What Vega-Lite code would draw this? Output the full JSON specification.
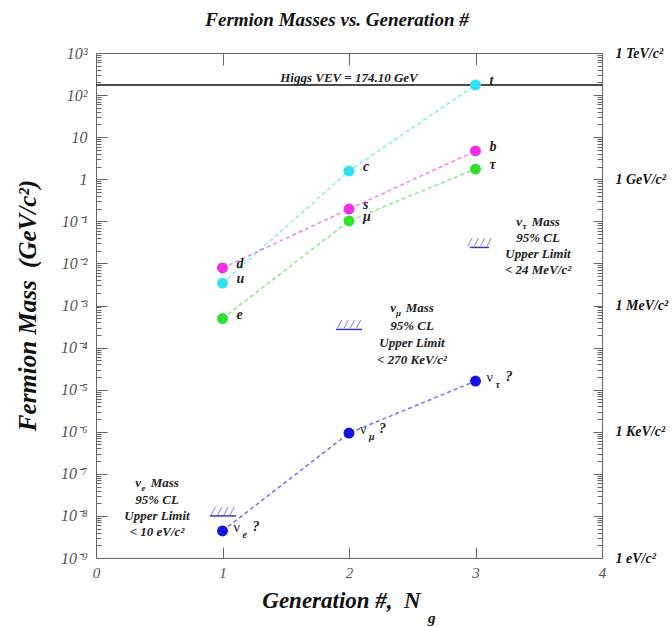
{
  "$schema": "https://vega.github.io/schema/vega-lite/v6.json",
  "autosize": "none",
  "width": 506,
  "height": 505,
  "padding": {"left": 96, "top": 53, "right": 70, "bottom": 69},
  "title": {"text": "Fermion Masses vs. Generation #", "font": "Liberation Serif", "fontSize": 19, "fontStyle": "italic", "fontWeight": "bold", "anchor": "middle", "offset": 15, "dx": -12, "color": "#111"},
  "config": {
    "view": {"stroke": "#666", "strokeWidth": 1},
    "font": "Liberation Serif",
    "axis": {"domainColor": "#666", "tickColor": "#666", "grid": false, "labelOverlap": false, "labelBound": false, "labelFlush": false}
  },
  "datasets": {
    "pts": [
      {"gen": 1, "mass": 0.0078, "fam": "down", "label": "d"},
      {"gen": 2, "mass": 0.196, "fam": "down", "label": "s"},
      {"gen": 3, "mass": 4.7, "fam": "down", "label": "b"},
      {"gen": 1, "mass": 0.0034, "fam": "up", "label": "u"},
      {"gen": 2, "mass": 1.57, "fam": "up", "label": "c"},
      {"gen": 3, "mass": 174, "fam": "up", "label": "t"},
      {"gen": 1, "mass": 0.00049, "fam": "lepton", "label": "e"},
      {"gen": 2, "mass": 0.102, "fam": "lepton", "label": "μ"},
      {"gen": 3, "mass": 1.75, "fam": "lepton", "label": "τ"},
      {"gen": 1, "mass": 4.4e-9, "fam": "neutrino", "label": "", "sub": "e"},
      {"gen": 2, "mass": 9.3e-7, "fam": "neutrino", "label": "", "sub": "μ"},
      {"gen": 3, "mass": 1.6e-5, "fam": "neutrino", "label": "", "sub": "τ"}
    ],
    "limits": [
      {"gen": 1.0, "lo": 0.9, "hi": 1.107, "limit": 1e-8},
      {"gen": 2.0, "lo": 1.897, "hi": 2.103, "limit": 2.7e-4},
      {"gen": 3.03, "lo": 2.957, "hi": 3.107, "limit": 0.024}
    ],
    "notes": [
      {"gen": 0.482, "mass": 6.0e-8, "text": "ν\u00a0\u00a0\u00a0Mass"},
      {"gen": 0.482, "mass": 2.4e-8, "text": "95% CL"},
      {"gen": 0.482, "mass": 9.9e-9, "text": "Upper Limit"},
      {"gen": 0.482, "mass": 4.1e-9, "text": "< 10 eV/c²"},
      {"gen": 2.498, "mass": 8.7e-4, "text": "ν\u00a0\u00a0\u00a0Mass"},
      {"gen": 2.498, "mass": 3.25e-4, "text": "95% CL"},
      {"gen": 2.498, "mass": 1.28e-4, "text": "Upper Limit"},
      {"gen": 2.498, "mass": 5.06e-5, "text": "< 270 KeV/c²"},
      {"gen": 3.494, "mass": 0.0964, "text": "ν\u00a0\u00a0\u00a0Mass"},
      {"gen": 3.494, "mass": 0.0402, "text": "95% CL"},
      {"gen": 3.494, "mass": 0.0167, "text": "Upper Limit"},
      {"gen": 3.494, "mass": 0.00697, "text": "< 24 MeV/c²"}
    ],
    "notesubs": [
      {"gen": 0.375, "mass": 4.6e-8, "text": "e"},
      {"gen": 2.391, "mass": 6.6e-4, "text": "μ"},
      {"gen": 3.387, "mass": 0.0775, "text": "τ"}
    ]
  },
  "layer": [
    {
      "data": {"values": [{"vev": 174.1}]},
      "mark": {"type": "rule", "color": "#111", "strokeWidth": 1.5},
      "encoding": {
        "y": {"field": "vev", "type": "quantitative", "scale": {"type": "log", "domain": [1e-9, 1000]}, "axis": null}
      }
    },
    {
      "data": {"name": "pts"},
      "mark": {"type": "line", "strokeDash": [4, 3], "strokeWidth": 1.5, "opacity": 0.6},
      "encoding": {
        "x": {"field": "gen", "type": "quantitative", "scale": {"domain": [0, 4], "nice": false, "zero": false},
          "axis": {"orient": "top", "values": [1, 2, 3], "labels": false, "tickSize": -12, "title": null, "domain": false}},
        "y": {"field": "mass", "type": "quantitative", "scale": {"type": "log", "domain": [1e-9, 1000]},
          "axis": {"orient": "right", "title": null, "domain": false,
            "values": [1e-9,2e-9,3e-9,4e-9,5e-9,6e-9,7e-9,8e-9,9e-9,1e-8,2e-8,3e-8,4e-8,5e-8,6e-8,7e-8,8e-8,9e-8,1e-7,2e-7,3e-7,4e-7,5e-7,6e-7,7e-7,8e-7,9e-7,1e-6,2e-6,3e-6,4e-6,5e-6,6e-6,7e-6,8e-6,9e-6,1e-5,2e-5,3e-5,4e-5,5e-5,6e-5,7e-5,8e-5,9e-5,1e-4,2e-4,3e-4,4e-4,5e-4,6e-4,7e-4,8e-4,9e-4,0.001,0.002,0.003,0.004,0.005,0.006,0.007,0.008,0.009,0.01,0.02,0.03,0.04,0.05,0.06,0.07,0.08,0.09,0.1,0.2,0.3,0.4,0.5,0.6,0.7,0.8,0.9,1,2,3,4,5,6,7,8,9,10,20,30,40,50,60,70,80,90,100,200,300,400,500,600,700,800,900,1000],
            "tickSize": {"condition": {"test": "abs(log(datum.value)/LN10 - round(log(datum.value)/LN10)) < 0.01", "value": -9}, "value": -5},
            "labelExpr": "abs(datum.value/1000 - 1) < 1e-6 ? '1 TeV/c²' : abs(datum.value - 1) < 1e-9 ? '1 GeV/c²' : abs(datum.value/1e-3 - 1) < 1e-6 ? '1 MeV/c²' : abs(datum.value/1e-6 - 1) < 1e-6 ? '1 KeV/c²' : abs(datum.value/1e-9 - 1) < 1e-6 ? '1 eV/c²' : ''",
            "labelFont": "Liberation Serif", "labelFontSize": 14, "labelFontStyle": "italic", "labelFontWeight": "bold", "labelColor": "#111", "labelPadding": 22}},
        "color": {"field": "fam", "type": "nominal", "scale": {"domain": ["up", "down", "lepton", "neutrino"], "range": ["#2fe3ee", "#ee2fe6", "#2fe02f", "#1414e0"]}, "legend": null},
        "detail": {"field": "fam"}
      }
    },
    {
      "data": {"name": "pts"},
      "mark": {"type": "circle", "size": 120, "opacity": 1},
      "encoding": {
        "x": {"field": "gen", "type": "quantitative", "scale": {"domain": [0, 4], "nice": false, "zero": false},
          "axis": {"orient": "bottom", "values": [0, 1, 2, 3, 4], "tickSize": -11, "domain": false,
            "labelFont": "Liberation Serif", "labelFontSize": 15, "labelFontStyle": "italic", "labelColor": "#555", "labelPadding": 18,
            "title": "Generation #,\u00a0\u00a0N", "titleFont": "Liberation Serif", "titleFontSize": 23, "titleFontStyle": "italic", "titleFontWeight": "bold", "titleColor": "#111",
            "titleX": 245, "titleY": 49, "titleBaseline": "alphabetic", "titleAlign": "center"}},
        "y": {"field": "mass", "type": "quantitative", "scale": {"type": "log", "domain": [1e-9, 1000]},
          "axis": {"orient": "left", "domain": false,
            "values": [1e-9,2e-9,3e-9,4e-9,5e-9,6e-9,7e-9,8e-9,9e-9,1e-8,2e-8,3e-8,4e-8,5e-8,6e-8,7e-8,8e-8,9e-8,1e-7,2e-7,3e-7,4e-7,5e-7,6e-7,7e-7,8e-7,9e-7,1e-6,2e-6,3e-6,4e-6,5e-6,6e-6,7e-6,8e-6,9e-6,1e-5,2e-5,3e-5,4e-5,5e-5,6e-5,7e-5,8e-5,9e-5,1e-4,2e-4,3e-4,4e-4,5e-4,6e-4,7e-4,8e-4,9e-4,0.001,0.002,0.003,0.004,0.005,0.006,0.007,0.008,0.009,0.01,0.02,0.03,0.04,0.05,0.06,0.07,0.08,0.09,0.1,0.2,0.3,0.4,0.5,0.6,0.7,0.8,0.9,1,2,3,4,5,6,7,8,9,10,20,30,40,50,60,70,80,90,100,200,300,400,500,600,700,800,900,1000],
            "tickSize": {"condition": {"test": "abs(log(datum.value)/LN10 - round(log(datum.value)/LN10)) < 0.01", "value": -11}, "value": -5},
            "labelExpr": "abs(log(datum.value)/LN10 - round(log(datum.value)/LN10)) < 0.01 ? (round(log(datum.value)/LN10) == 0 ? '1' : round(log(datum.value)/LN10) == 1 ? '10' : '10' + (round(log(datum.value)/LN10) < 0 ? '⁻' : '') + substring('⁰¹²³⁴⁵⁶⁷⁸⁹', abs(round(log(datum.value)/LN10)), abs(round(log(datum.value)/LN10)) + 1)) : ''",
            "labelFont": "Liberation Serif", "labelFontSize": 16, "labelFontStyle": "italic", "labelColor": "#555", "labelPadding": 20,
            "title": "Fermion Mass\u00a0\u00a0(GeV/c²)", "titleFont": "Liberation Serif", "titleFontSize": 25, "titleFontStyle": "italic", "titleFontWeight": "bold", "titleColor": "#111",
            "titleX": -69, "titleY": 252, "titleAngle": -90, "titleBaseline": "middle", "titleAlign": "center"}},
        "color": {"field": "fam", "type": "nominal", "scale": {"domain": ["up", "down", "lepton", "neutrino"], "range": ["#2fe3ee", "#ee2fe6", "#2fe02f", "#1414e0"]}, "legend": null}
      }
    },
    {
      "data": {"name": "pts"},
      "mark": {"type": "text", "align": "left", "baseline": "middle", "dx": 14, "dy": -4, "fontSize": 14, "fontStyle": "italic", "fontWeight": "bold", "color": "#222"},
      "encoding": {
        "x": {"field": "gen", "type": "quantitative", "axis": null},
        "y": {"field": "mass", "type": "quantitative", "axis": null},
        "text": {"field": "label"}
      }
    },
    {
      "data": {"name": "pts"},
      "transform": [{"filter": "datum.fam == 'neutrino'"}],
      "mark": {"type": "text", "text": "ν", "align": "left", "baseline": "middle", "dx": 11, "dy": -3, "fontSize": 14, "color": "#222"},
      "encoding": {
        "x": {"field": "gen", "type": "quantitative", "axis": null},
        "y": {"field": "mass", "type": "quantitative", "axis": null}
      }
    },
    {
      "data": {"name": "pts"},
      "transform": [{"filter": "datum.fam == 'neutrino'"}],
      "mark": {"type": "text", "align": "left", "baseline": "middle", "dx": 20, "dy": 4, "fontSize": 10, "fontStyle": "italic", "fontWeight": "bold", "color": "#222"},
      "encoding": {
        "x": {"field": "gen", "type": "quantitative", "axis": null},
        "y": {"field": "mass", "type": "quantitative", "axis": null},
        "text": {"field": "sub"}
      }
    },
    {
      "data": {"name": "pts"},
      "transform": [{"filter": "datum.fam == 'neutrino'"}],
      "mark": {"type": "text", "text": "?", "align": "left", "baseline": "middle", "dx": 30, "dy": -4, "fontSize": 14, "fontStyle": "italic", "fontWeight": "bold", "color": "#222"},
      "encoding": {
        "x": {"field": "gen", "type": "quantitative", "axis": null},
        "y": {"field": "mass", "type": "quantitative", "axis": null}
      }
    },
    {
      "data": {"name": "limits"},
      "mark": {"type": "rule", "color": "#3535c0", "strokeWidth": 1.5},
      "encoding": {
        "x": {"field": "lo", "type": "quantitative", "axis": null},
        "x2": {"field": "hi"},
        "y": {"field": "limit", "type": "quantitative", "axis": null}
      }
    },
    {
      "data": {"name": "limits"},
      "mark": {"type": "text", "text": "/\u00a0/\u00a0/\u00a0/", "align": "center", "baseline": "alphabetic", "dy": -1, "fontSize": 12, "fontStyle": "italic", "color": "#3535c0"},
      "encoding": {
        "x": {"field": "gen", "type": "quantitative", "axis": null},
        "y": {"field": "limit", "type": "quantitative", "axis": null}
      }
    },
    {
      "data": {"name": "notes"},
      "mark": {"type": "text", "align": "center", "baseline": "middle", "fontSize": 13, "fontStyle": "italic", "fontWeight": "bold", "color": "#222"},
      "encoding": {
        "x": {"field": "gen", "type": "quantitative", "axis": null},
        "y": {"field": "mass", "type": "quantitative", "axis": null},
        "text": {"field": "text"}
      }
    },
    {
      "data": {"name": "notesubs"},
      "mark": {"type": "text", "align": "center", "baseline": "middle", "fontSize": 9, "fontStyle": "italic", "fontWeight": "bold", "color": "#222"},
      "encoding": {
        "x": {"field": "gen", "type": "quantitative", "axis": null},
        "y": {"field": "mass", "type": "quantitative", "axis": null},
        "text": {"field": "text"}
      }
    },
    {
      "data": {"values": [{"gen": 2.0, "mass": 174.1, "text": "Higgs VEV = 174.10 GeV"}]},
      "mark": {"type": "text", "align": "center", "baseline": "alphabetic", "dy": -3, "fontSize": 13, "fontStyle": "italic", "fontWeight": "bold", "color": "#222"},
      "encoding": {
        "x": {"field": "gen", "type": "quantitative", "axis": null},
        "y": {"field": "mass", "type": "quantitative", "axis": null},
        "text": {"field": "text"}
      }
    },
    {
      "data": {"values": [{"gen": 2.655, "mass": 3.7e-11, "text": "g"}]},
      "mark": {"type": "text", "align": "center", "baseline": "middle", "fontSize": 15, "fontStyle": "italic", "fontWeight": "bold", "color": "#111", "clip": false},
      "encoding": {
        "x": {"field": "gen", "type": "quantitative", "axis": null},
        "y": {"field": "mass", "type": "quantitative", "axis": null},
        "text": {"field": "text"}
      }
    }
  ],
  "resolve": {"axis": {"x": "independent", "y": "independent"}}
}
